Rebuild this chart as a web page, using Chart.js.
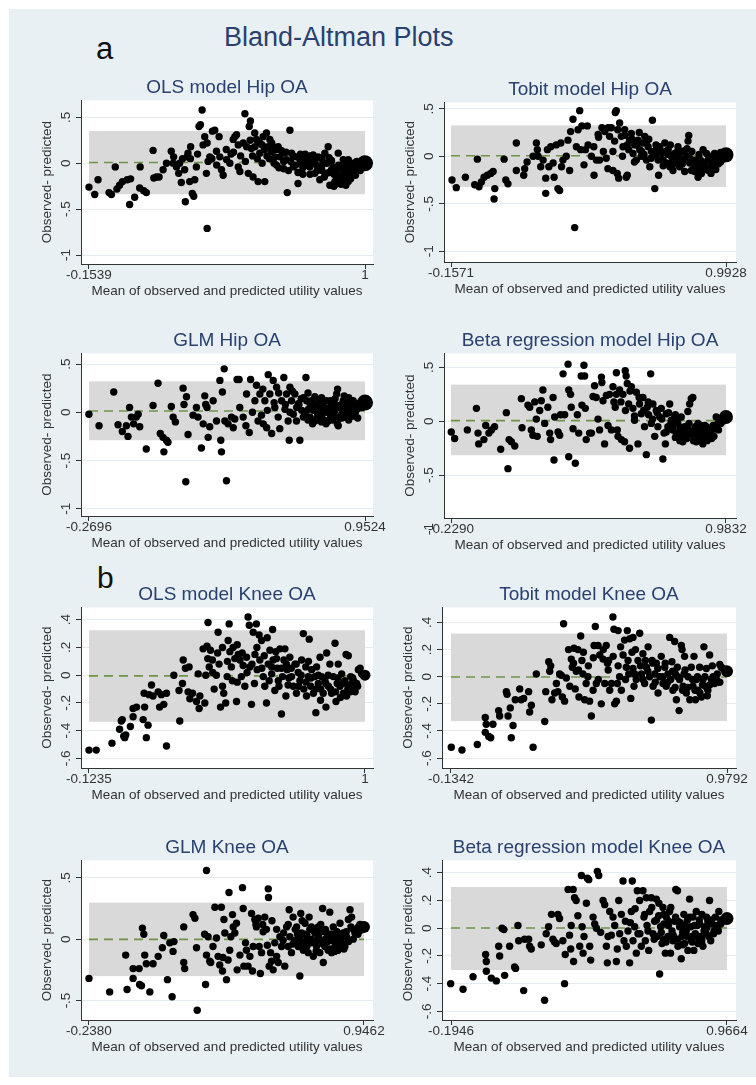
<!DOCTYPE html>
<html>
<head>
<meta charset="utf-8">
<title>Bland-Altman Plots</title>
<script src="https://cdn.jsdelivr.net/npm/chart.js@4.4.0/dist/chart.umd.min.js"></script>
<style>
  html, body { margin: 0; padding: 0; background: #fff; overflow: hidden; }
  #page { position: relative; width: 756px; height: 1085px; }
  #bg { position: absolute; left: 9px; top: 9px; width: 747px; height: 1068px; background: #e8f0f3; }
  canvas { position: absolute; }
  .lbl { position: absolute; font-family: "Liberation Sans", Arial, sans-serif; line-height: 1; white-space: nowrap; }
</style>
</head>
<body>
<div id="page">
  <div id="bg"></div>
  <div class="lbl" style="left:224px;top:24px;font-size:27px;color:#2a4170">Bland-Altman Plots</div>
  <div class="lbl" style="left:96px;top:33px;font-size:31px;color:#111">a</div>
  <div class="lbl" style="left:97px;top:563px;font-size:30px;color:#111">b</div>
</div>
<script>
// ---- data: [mean, difference] pairs ----
const olsHipPts = [
  [-0.154,-0.26],[-0.13,-0.34],[-0.116,-0.18],[-0.07,-0.32],[-0.06,-0.34],[-0.044,-0.04],[-0.037,-0.28],[-0.026,-0.24],
  [-0.014,-0.20],[0.006,-0.18],[0.016,-0.45],[0.02,-0.17],[0.037,-0.37],[0.06,-0.04],[0.058,-0.27],[0.075,-0.30],
  [0.086,-0.32],[0.114,0.14],[0.117,-0.16],[0.128,-0.15],[0.139,-0.15],[0.156,-0.07],[0.17,0.0],[0.19,0.13],
  [0.198,0.0],[0.2,0.07],[0.212,-0.04],[0.221,-0.11],[0.225,0.0],[0.232,-0.21],[0.237,0.05],[0.246,-0.07],
  [0.249,-0.42],[0.256,0.07],[0.26,0.11],[0.267,-0.20],[0.271,0.18],[0.278,-0.33],[0.284,-0.36],[0.288,-0.18],
  [0.295,-0.04],[0.306,0.40],[0.312,0.42],[0.319,0.58],[0.323,0.20],[0.33,0.29],[0.337,-0.11],[0.344,0.02],
  [0.34,-0.71],[0.351,0.07],[0.362,0.35],[0.372,0.36],[0.379,0.13],[0.39,0.29],[0.393,0.07],[0.40,-0.07],
  [0.407,-0.13],[0.421,0.04],[0.435,0.0],[0.449,0.26],[0.456,0.29],[0.463,0.31],[0.47,-0.04],[0.477,-0.09],
  [0.491,0.22],[0.498,0.54],[0.505,0.18],[0.512,-0.11],[0.516,0.40],[0.521,0.46],[0.525,0.16],[0.532,-0.15],
  [0.539,0.33],[0.546,0.26],[0.553,-0.20],[0.56,0.11],[0.574,0.29],[0.581,-0.20],[0.588,0.33],[0.595,0.18],
  [0.602,0.26],[0.609,0.13],[0.616,0.18],[0.623,0.07],[0.63,0.15],[0.637,0.18],[0.644,0.07],[0.658,0.11],
  [0.672,0.04],[0.675,-0.32],[0.686,0.36],[0.693,0.11],[0.70,-0.04],[0.714,0.07],[0.72,-0.22],[0.728,0.04],
  [0.735,0.0],[0.742,0.07],[0.755,-0.02],[0.762,0.07],[0.769,-0.04],[0.776,0.04],[0.783,0.09],[0.79,-0.11],
  [0.797,-0.02],[0.804,0.07],[0.811,-0.18],[0.818,-0.04],[0.825,0.0],[0.832,0.11],[0.839,-0.11],[0.846,0.18],
  [0.853,-0.24],[0.86,-0.07],[0.867,-0.04],[0.874,-0.20],[0.881,-0.11],[0.888,0.11],[0.895,-0.15],[0.902,-0.04],
  [0.909,0.04],[0.916,-0.07],[0.923,-0.04],[0.93,0.04],[0.937,-0.02],[0.951,0.0],[0.965,0.02],[0.979,0.01],
  [0.993,-0.01],[0.62,0.0],[0.64,-0.05],[0.66,0.02],[0.68,-0.08],[0.70,0.08],[0.72,-0.10],[0.74,-0.05],
  [0.75,0.10],[0.77,-0.12],[0.78,0.0],[0.80,-0.08],[0.82,0.05],[0.83,-0.15],[0.85,-0.10],[0.86,0.03],
  [0.88,-0.18],[0.89,-0.06],[0.90,-0.20],[0.91,-0.12],[0.92,-0.16],[0.93,-0.08],[0.94,-0.12],[0.95,-0.05],
  [0.96,-0.08],[0.97,-0.03],[0.87,-0.25],[0.885,-0.22],[0.90,-0.23],[0.55,0.05],[0.57,0.20],[0.59,0.08],
  [0.45,0.12],[0.47,0.20],[0.48,0.08],[0.50,0.02],[0.52,0.25],[0.53,0.08],[0.54,0.18],[0.56,0.22],
  [0.57,0.0],[0.58,0.15],[0.60,0.05],[0.61,0.22],[0.63,-0.02],[0.65,0.14],[0.66,-0.06],[0.67,0.12],
  [0.69,0.02],[0.71,-0.02],[0.73,0.10],[0.74,-0.12],[0.76,0.03],[0.77,0.08],[0.79,0.02],[0.81,0.06],
  [0.82,-0.08],[0.84,0.0],[0.85,0.06],[0.87,-0.12],[0.89,-0.02],[0.91,-0.18],[0.92,-0.02],[0.94,-0.06],
  [0.95,-0.10],[0.96,-0.02],[0.97,-0.06],[0.98,-0.02],[0.99,0.02],[0.94,-0.17],[0.93,-0.20],[0.92,-0.24],
  [0.96,-0.13],[0.98,-0.08],[0.27,0.05],[0.30,0.10],[0.34,0.22],[0.36,0.05],[0.38,-0.02],[0.42,0.15],[0.44,0.10]
];
const olsHipEnd = [[1.0, 0.0]];

const tobitHipPts = [
  [-0.153,-0.25],[-0.135,-0.33],[-0.097,-0.22],[-0.058,-0.30],[-0.047,-0.03],[-0.04,-0.32],[-0.03,-0.27],[-0.019,-0.22],
  [-0.005,-0.20],[0.009,-0.18],[0.019,-0.16],[0.026,-0.34],[0.023,-0.45],[0.065,-0.03],[0.072,-0.25],[0.081,-0.29],
  [0.116,0.14],[0.116,-0.15],[0.147,-0.20],[0.151,-0.13],[0.161,-0.06],[0.186,0.0],[0.2,0.14],[0.204,0.07],
  [0.207,0.0],[0.218,-0.11],[0.228,-0.04],[0.239,-0.23],[0.239,-0.39],[0.246,0.07],[0.252,-0.11],[0.26,0.10],
  [0.27,-0.07],[0.274,-0.22],[0.283,0.12],[0.29,-0.34],[0.297,-0.36],[0.302,0.14],[0.305,-0.11],[0.311,-0.04],
  [0.325,0.0],[0.332,0.17],[0.339,-0.15],[0.343,0.26],[0.353,0.39],[0.36,-0.75],[0.367,0.10],[0.374,0.28],
  [0.381,0.48],[0.385,0.07],[0.39,0.32],[0.399,-0.09],[0.405,0.07],[0.413,0.32],[0.416,0.12],[0.43,0.0],
  [0.441,-0.20],[0.451,-0.04],[0.458,0.23],[0.464,-0.04],[0.474,0.30],[0.486,0.26],[0.492,-0.02],[0.499,-0.13],
  [0.506,0.21],[0.513,0.30],[0.52,-0.15],[0.527,0.16],[0.53,0.46],[0.534,0.48],[0.538,-0.18],[0.544,-0.23],
  [0.548,0.35],[0.555,0.21],[0.562,0.10],[0.569,0.28],[0.576,-0.22],[0.58,-0.20],[0.586,0.07],[0.59,0.17],
  [0.597,0.24],[0.604,0.03],[0.611,0.12],[0.618,-0.04],[0.625,0.17],[0.632,0.07],[0.639,0.0],[0.646,0.14],
  [0.653,0.21],[0.66,-0.04],[0.667,0.10],[0.674,-0.11],[0.681,0.05],[0.685,0.38],[0.695,-0.34],[0.702,0.07],
  [0.709,-0.04],[0.711,-0.20],[0.716,0.10],[0.723,0.03],[0.73,-0.04],[0.737,0.14],[0.744,-0.07],[0.751,0.07],
  [0.758,-0.11],[0.764,0.0],[0.771,-0.15],[0.778,0.03],[0.785,-0.04],[0.792,0.10],[0.799,-0.11],[0.806,0.05],
  [0.813,-0.04],[0.82,-0.16],[0.827,0.0],[0.834,0.16],[0.837,0.22],[0.841,-0.07],[0.848,-0.15],[0.855,-0.04],
  [0.862,-0.16],[0.869,-0.04],[0.876,-0.22],[0.883,-0.13],[0.89,-0.18],[0.897,0.07],[0.904,-0.11],[0.911,0.03],
  [0.918,-0.04],[0.925,-0.11],[0.932,0.0],[0.938,-0.06],[0.945,0.03],[0.952,-0.04],[0.959,-0.02],[0.966,0.01],
  [0.973,0.0],[0.98,0.01],[0.987,0.01],[0.62,0.12],[0.64,0.05],[0.66,0.15],[0.70,0.02],[0.74,0.05],
  [0.78,-0.08],[0.82,0.06],[0.86,-0.10],[0.88,-0.02],[0.90,-0.08],[0.92,-0.15],[0.94,-0.09],[0.57,0.22],
  [0.52,0.05],[0.54,0.28],[0.56,0.0],[0.58,0.12],[0.60,0.18],[0.61,-0.06],[0.63,0.25],[0.65,0.02],
  [0.67,0.18],[0.68,-0.02],[0.70,0.12],[0.72,0.05],[0.73,-0.10],[0.75,0.02],[0.76,0.12],[0.77,-0.05],
  [0.79,0.05],[0.80,-0.02],[0.81,-0.08],[0.83,0.08],[0.84,-0.02],[0.85,0.05],[0.87,-0.10],[0.88,0.02],
  [0.89,-0.05],[0.91,-0.14],[0.92,-0.03],[0.93,-0.18],[0.94,-0.12],[0.95,0.02],[0.96,-0.08],[0.97,0.04],
  [0.98,-0.03],[0.95,-0.14],[0.97,-0.06],[0.99,0.03],[0.44,0.10],[0.46,0.20],[0.48,0.05],[0.50,0.30]
];
const tobitHipEnd = [[0.9928, 0.015]];

const glmHipPts = [
  [-0.27,-0.02],[-0.225,-0.14],[-0.16,0.21],[-0.141,-0.13],[-0.122,-0.20],[-0.104,-0.14],[-0.097,-0.25],[-0.09,0.05],
  [-0.082,-0.05],[-0.072,-0.12],[-0.06,-0.05],[-0.045,-0.15],[-0.052,-0.02],[-0.016,-0.38],[0.014,0.07],[0.036,0.30],
  [0.046,-0.22],[0.058,-0.26],[0.062,-0.41],[0.073,-0.29],[0.08,-0.31],[0.095,0.06],[0.103,-0.05],[0.113,-0.10],
  [0.147,0.25],[0.151,0.08],[0.159,-0.72],[0.162,0.16],[0.169,-0.23],[0.191,-0.03],[0.206,0.05],[0.213,-0.05],
  [0.228,-0.37],[0.236,-0.12],[0.243,0.17],[0.247,0.08],[0.253,0.05],[0.258,-0.26],[0.265,-0.15],[0.28,0.12],
  [0.295,-0.09],[0.31,0.33],[0.314,-0.29],[0.317,-0.41],[0.321,0.21],[0.329,0.45],[0.339,-0.71],[0.332,-0.09],
  [0.346,-0.12],[0.361,-0.05],[0.369,-0.16],[0.376,-0.07],[0.386,0.34],[0.395,0.34],[0.398,0.05],[0.413,-0.05],
  [0.425,-0.14],[0.428,0.19],[0.44,-0.21],[0.446,0.34],[0.454,0.0],[0.465,0.12],[0.472,0.28],[0.479,-0.09],
  [0.487,0.19],[0.494,-0.03],[0.502,-0.12],[0.509,0.12],[0.517,-0.16],[0.524,0.39],[0.531,0.19],[0.539,-0.22],
  [0.546,0.33],[0.553,0.05],[0.561,0.26],[0.568,-0.05],[0.575,-0.17],[0.583,0.12],[0.593,0.36],[0.598,0.03],
  [0.605,0.19],[0.612,-0.09],[0.617,-0.29],[0.62,0.26],[0.627,0.12],[0.635,-0.02],[0.642,0.19],[0.649,-0.09],
  [0.657,0.09],[0.664,-0.29],[0.672,0.02],[0.679,-0.05],[0.691,0.36],[0.694,0.12],[0.701,0.03],[0.709,-0.05],
  [0.716,0.12],[0.723,0.02],[0.731,-0.09],[0.738,0.09],[0.746,-0.02],[0.753,0.12],[0.76,-0.05],[0.768,0.05],
  [0.775,0.0],[0.782,0.12],[0.79,-0.09],[0.797,0.05],[0.804,-0.02],[0.812,0.09],[0.819,0.02],[0.827,0.19],
  [0.831,0.24],[0.834,-0.14],[0.841,0.05],[0.849,-0.02],[0.856,0.12],[0.863,0.03],[0.871,-0.02],[0.878,0.09],
  [0.886,0.05],[0.893,0.02],[0.9,0.09],[0.908,0.05],[0.915,0.07],[0.923,0.09],[0.93,0.09],[0.937,0.10],
  [0.945,0.10],[0.70,-0.08],[0.72,0.06],[0.74,-0.06],[0.76,0.02],[0.77,-0.08],[0.78,0.04],[0.80,-0.05],
  [0.81,0.0],[0.82,-0.04],[0.83,0.07],[0.85,-0.06],[0.87,0.0],[0.89,-0.04],[0.66,0.08],[0.68,0.15],
  [0.60,0.08],[0.62,0.0],[0.63,0.22],[0.65,0.05],[0.67,0.14],[0.69,0.0],[0.70,0.20],[0.71,0.08],
  [0.73,0.16],[0.74,0.0],[0.75,0.06],[0.76,0.15],[0.77,0.10],[0.79,0.0],[0.80,0.12],[0.81,-0.08],
  [0.82,0.14],[0.84,-0.06],[0.85,0.08],[0.86,-0.05],[0.87,0.12],[0.88,-0.08],[0.89,0.02],[0.90,-0.04],
  [0.91,0.0],[0.92,0.04],[0.93,0.06],[0.94,0.05],[0.92,-0.06],[0.90,0.12],[0.88,0.15],[0.86,0.17],
  [0.78,-0.12],[0.83,-0.12],[0.76,-0.10],[0.72,-0.12],[0.55,0.10],[0.57,0.20],[0.52,0.02],[0.50,0.24]
];
const glmHipEnd = [[0.9524, 0.10]];

const betaHipPts = [
  [-0.228,-0.10],[-0.213,-0.16],[-0.157,-0.08],[-0.117,0.12],[-0.11,-0.11],[-0.107,-0.21],[-0.084,-0.17],[-0.076,-0.04],
  [-0.062,-0.11],[-0.051,-0.08],[-0.037,-0.05],[-0.01,-0.26],[0.015,0.08],[0.022,-0.44],[0.027,-0.17],[0.037,-0.19],
  [0.052,-0.23],[0.081,0.21],[0.084,-0.06],[0.11,0.15],[0.118,0.13],[0.125,-0.08],[0.132,-0.13],[0.14,0.18],
  [0.147,0.02],[0.151,-0.14],[0.162,0.10],[0.169,0.19],[0.176,0.29],[0.184,-0.02],[0.198,0.13],[0.206,-0.11],
  [0.21,-0.17],[0.221,0.22],[0.225,-0.36],[0.228,0.04],[0.243,-0.10],[0.25,-0.13],[0.254,0.06],[0.265,0.44],
  [0.272,0.06],[0.287,0.53],[0.29,0.29],[0.29,-0.33],[0.298,0.25],[0.301,0.13],[0.309,-0.07],[0.319,-0.39],
  [0.328,0.06],[0.334,-0.11],[0.345,0.42],[0.348,0.15],[0.357,0.52],[0.36,0.42],[0.363,0.12],[0.367,-0.17],
  [0.382,-0.11],[0.39,-0.11],[0.397,0.23],[0.404,0.33],[0.411,0.22],[0.419,0.02],[0.426,-0.08],[0.434,0.41],
  [0.436,0.36],[0.441,0.19],[0.448,-0.21],[0.456,0.24],[0.463,-0.04],[0.47,0.25],[0.478,-0.08],[0.485,0.32],
  [0.489,0.18],[0.495,0.13],[0.5,0.45],[0.504,-0.08],[0.507,-0.14],[0.514,0.29],[0.522,-0.17],[0.529,0.25],
  [0.536,-0.19],[0.539,0.47],[0.543,0.42],[0.548,0.35],[0.554,0.16],[0.558,-0.25],[0.566,0.32],[0.573,0.12],
  [0.58,0.01],[0.588,0.27],[0.595,-0.21],[0.602,0.16],[0.61,0.07],[0.617,0.22],[0.624,-0.05],[0.632,-0.31],
  [0.636,0.13],[0.642,0.06],[0.651,0.44],[0.654,-0.02],[0.661,0.16],[0.669,-0.14],[0.676,0.10],[0.683,-0.05],
  [0.691,0.04],[0.698,0.12],[0.705,-0.35],[0.71,-0.11],[0.716,-0.21],[0.72,0.07],[0.727,-0.05],[0.735,0.16],
  [0.742,0.01],[0.749,-0.08],[0.757,0.04],[0.764,-0.11],[0.771,-0.02],[0.779,-0.14],[0.786,0.04],[0.793,-0.19],
  [0.801,-0.05],[0.808,-0.11],[0.815,0.09],[0.823,0.16],[0.83,0.21],[0.837,0.22],[0.842,-0.14],[0.848,-0.05],
  [0.852,-0.19],[0.86,-0.08],[0.867,-0.14],[0.874,-0.04],[0.881,-0.21],[0.889,-0.11],[0.896,-0.05],[0.904,-0.14],
  [0.911,-0.07],[0.918,-0.11],[0.926,-0.04],[0.933,-0.07],[0.94,0.04],[0.948,-0.02],[0.955,0.01],[0.962,0.02],
  [0.97,0.04],[0.977,0.04],[0.78,-0.06],[0.80,-0.12],[0.82,-0.08],[0.84,-0.10],[0.86,-0.16],[0.88,-0.08],
  [0.90,-0.10],[0.92,-0.16],[0.76,0.06],[0.74,-0.02],
  [0.70,0.02],[0.72,-0.10],[0.73,0.08],[0.75,-0.04],[0.76,-0.15],[0.77,0.02],[0.78,-0.18],[0.79,-0.08],
  [0.81,-0.16],[0.82,-0.02],[0.83,-0.12],[0.84,-0.18],[0.85,-0.10],[0.86,-0.02],[0.87,-0.18],[0.88,-0.14],
  [0.89,-0.04],[0.90,-0.18],[0.91,-0.12],[0.92,-0.07],[0.93,-0.14],[0.94,-0.06],[0.95,-0.08],[0.96,-0.02],
  [0.97,0.0],[0.98,0.02],[0.68,0.08],[0.66,0.02],[0.64,0.18],[0.62,0.10],[0.60,0.22],[0.58,0.05],
  [0.56,0.28],[0.54,0.10],[0.52,0.18],[0.50,0.25]
];
const betaHipEnd = [[0.9832, 0.04]];

const olsKneePts = [
  [-0.1235,-0.54],[-0.094,-0.54],[-0.03,-0.49],[0.001,-0.39],[0.008,-0.33],[0.012,-0.32],[0.018,-0.44],[0.026,-0.43],
  [0.022,-0.45],[0.045,-0.37],[0.056,-0.30],[0.056,-0.24],[0.07,-0.23],[0.097,-0.32],[0.101,-0.13],[0.103,-0.23],
  [0.11,-0.45],[0.117,-0.36],[0.121,-0.14],[0.131,-0.07],[0.137,-0.15],[0.158,-0.12],[0.164,-0.23],[0.171,-0.14],
  [0.181,-0.21],[0.192,-0.51],[0.192,-0.13],[0.222,0.0],[0.243,-0.11],[0.246,-0.33],[0.257,-0.06],[0.26,0.11],
  [0.269,0.05],[0.28,-0.12],[0.284,0.06],[0.287,-0.17],[0.298,-0.13],[0.314,-0.19],[0.321,0.01],[0.325,-0.24],
  [0.328,-0.15],[0.341,0.19],[0.348,-0.20],[0.352,0.0],[0.357,0.21],[0.361,0.38],[0.366,0.06],[0.371,0.18],
  [0.379,0.11],[0.386,-0.10],[0.395,0.0],[0.402,0.31],[0.406,0.08],[0.412,-0.23],[0.42,-0.08],[0.425,-0.13],
  [0.433,-0.20],[0.439,-0.01],[0.443,0.25],[0.447,0.37],[0.45,0.17],[0.456,0.06],[0.463,0.20],[0.47,0.12],
  [0.477,-0.19],[0.48,-0.05],[0.484,0.15],[0.491,0.11],[0.497,-0.01],[0.504,0.07],[0.511,-0.08],[0.518,0.13],
  [0.524,0.42],[0.529,0.36],[0.531,0.06],[0.538,-0.21],[0.545,0.31],[0.552,0.15],[0.558,0.37],[0.561,0.04],
  [0.569,0.29],[0.572,0.11],[0.579,0.25],[0.586,-0.01],[0.592,-0.08],[0.599,-0.20],[0.602,0.27],[0.606,0.08],
  [0.613,0.18],[0.62,0.01],[0.624,0.33],[0.626,0.11],[0.633,-0.11],[0.637,0.17],[0.643,0.05],[0.647,-0.04],
  [0.654,0.19],[0.66,-0.28],[0.664,-0.01],[0.67,0.11],[0.674,0.19],[0.678,-0.15],[0.683,0.04],[0.687,-0.07],
  [0.694,0.13],[0.701,-0.01],[0.708,-0.08],[0.715,0.08],[0.721,-0.13],[0.728,0.02],[0.735,-0.04],[0.742,0.11],
  [0.749,0.30],[0.751,-0.10],[0.759,0.06],[0.762,-0.15],[0.769,-0.01],[0.773,0.26],[0.779,-0.08],[0.783,0.04],
  [0.79,-0.13],[0.796,-0.01],[0.8,-0.27],[0.803,0.06],[0.81,-0.06],[0.817,0.13],[0.819,-0.18],[0.823,-0.01],
  [0.83,-0.13],[0.837,-0.04],[0.841,-0.23],[0.844,0.16],[0.851,-0.08],[0.857,0.08],[0.864,-0.13],[0.871,-0.01],
  [0.878,0.23],[0.882,-0.19],[0.887,-0.06],[0.891,0.08],[0.898,-0.08],[0.905,0.01],[0.912,-0.13],[0.918,-0.04],
  [0.923,0.15],[0.925,-0.15],[0.932,0.14],[0.936,-0.08],[0.942,-0.01],[0.946,-0.06],[0.953,-0.04],[0.959,-0.08],
  [0.966,-0.06],[0.973,0.04],[0.98,0.05],[0.986,0.01],
  [0.36,0.12],[0.38,0.02],[0.40,0.16],[0.42,0.20],[0.44,0.10],[0.46,-0.04],[0.48,0.22],[0.50,0.16],
  [0.52,0.02],[0.54,0.08],[0.55,-0.06],[0.56,0.20],[0.58,0.05],[0.59,0.14],[0.61,-0.04],[0.62,0.06],
  [0.64,0.12],[0.65,-0.08],[0.66,0.05],[0.68,0.08],[0.69,-0.02],[0.70,0.05],[0.72,0.08],[0.73,-0.08],
  [0.74,0.0],[0.76,-0.05],[0.77,0.10],[0.78,-0.02],[0.80,-0.10],[0.81,0.0],[0.82,-0.10],[0.84,-0.06],
  [0.85,0.0],[0.86,-0.10],[0.88,-0.12],[0.89,-0.02],[0.90,-0.16],[0.91,-0.06],[0.93,-0.10],[0.94,-0.12],
  [0.95,-0.02],[0.96,-0.12],[0.97,-0.08]
];
const olsKneeEnd = [[1.0, 0.0]];

const tobitKneePts = [
  [-0.133,-0.52],[-0.09,-0.54],[-0.028,-0.50],[0.004,-0.30],[0.008,-0.35],[0.004,-0.41],[0.018,-0.44],[0.026,-0.45],
  [0.035,-0.35],[0.058,-0.25],[0.062,-0.29],[0.089,-0.11],[0.092,-0.13],[0.096,-0.29],[0.105,-0.23],[0.109,-0.45],
  [0.116,-0.36],[0.125,-0.17],[0.143,-0.09],[0.149,-0.17],[0.159,-0.16],[0.179,-0.11],[0.183,-0.26],[0.19,-0.21],
  [0.197,-0.52],[0.21,0.02],[0.244,-0.33],[0.248,-0.11],[0.26,0.11],[0.264,0.04],[0.268,0.08],[0.273,-0.17],
  [0.284,-0.12],[0.291,-0.05],[0.297,-0.11],[0.304,0.02],[0.311,0.01],[0.315,-0.15],[0.32,0.39],[0.324,-0.18],
  [0.331,-0.01],[0.34,0.20],[0.345,-0.07],[0.351,0.13],[0.355,0.07],[0.362,0.21],[0.367,-0.09],[0.371,0.04],
  [0.378,0.20],[0.382,-0.15],[0.389,0.30],[0.394,0.12],[0.398,0.02],[0.405,-0.17],[0.411,-0.05],[0.418,0.0],
  [0.425,-0.18],[0.432,-0.29],[0.439,-0.10],[0.443,0.23],[0.448,0.37],[0.452,-0.05],[0.459,0.23],[0.466,0.16],
  [0.472,-0.20],[0.479,0.13],[0.486,-0.05],[0.492,0.23],[0.497,0.10],[0.502,0.12],[0.506,-0.10],[0.513,-0.05],
  [0.519,0.44],[0.523,0.35],[0.526,-0.20],[0.533,-0.18],[0.537,-0.05],[0.54,0.34],[0.546,0.0],[0.553,-0.10],
  [0.56,0.16],[0.566,0.27],[0.573,0.07],[0.577,0.34],[0.583,0.02],[0.587,0.28],[0.591,-0.16],[0.596,0.18],
  [0.6,0.29],[0.604,-0.07],[0.607,0.02],[0.613,-0.02],[0.62,0.12],[0.627,0.32],[0.634,0.02],[0.64,0.17],
  [0.647,-0.05],[0.654,0.07],[0.661,0.22],[0.667,0.0],[0.674,-0.32],[0.677,0.12],[0.681,-0.07],[0.688,0.02],
  [0.694,0.10],[0.701,-0.12],[0.708,0.0],[0.714,0.15],[0.721,-0.05],[0.728,0.07],[0.734,-0.07],[0.741,0.02],
  [0.748,0.29],[0.752,-0.02],[0.757,0.11],[0.761,-0.10],[0.768,0.26],[0.771,0.02],[0.775,-0.17],[0.779,0.07],
  [0.786,-0.25],[0.788,-0.02],[0.795,0.23],[0.798,0.20],[0.802,-0.07],[0.806,0.02],[0.808,0.15],[0.815,-0.12],
  [0.822,0.0],[0.829,-0.17],[0.835,0.07],[0.842,-0.07],[0.846,0.15],[0.852,-0.17],[0.856,-0.02],[0.862,-0.10],
  [0.869,0.07],[0.876,-0.15],[0.882,-0.02],[0.886,0.22],[0.892,-0.07],[0.896,0.06],[0.902,-0.10],[0.909,0.16],
  [0.916,-0.02],[0.923,0.0],[0.929,-0.05],[0.936,-0.02],[0.943,-0.04],[0.95,0.09],[0.956,0.07],[0.963,0.06],
  [0.97,0.05],
  [0.36,0.10],[0.38,0.05],[0.40,0.18],[0.42,0.08],[0.44,0.14],[0.46,-0.02],[0.48,0.20],[0.50,0.05],
  [0.52,0.15],[0.54,0.08],[0.55,0.22],[0.57,-0.02],[0.58,0.12],[0.60,0.06],[0.61,0.20],[0.63,0.08],
  [0.64,-0.02],[0.65,0.12],[0.66,0.04],[0.68,0.10],[0.69,-0.04],[0.70,0.06],[0.72,0.0],[0.73,0.10],
  [0.74,-0.04],[0.76,0.04],[0.77,-0.08],[0.78,0.0],[0.80,-0.10],[0.81,0.05],[0.82,-0.08],[0.84,-0.02],
  [0.85,-0.10],[0.86,0.0],[0.87,-0.12],[0.88,-0.06],[0.89,0.0],[0.90,-0.14],[0.91,-0.06],[0.92,0.08],
  [0.94,0.02],[0.95,-0.04]
];
const tobitKneeEnd = [[0.9792, 0.04]];

const glmKneePts = [
  [-0.238,-0.32],[-0.149,-0.43],[-0.08,-0.13],[-0.074,-0.41],[-0.048,-0.32],[-0.048,-0.24],[-0.022,-0.24],[-0.02,-0.37],
  [-0.012,-0.38],[-0.008,0.09],[-0.002,0.04],[0.002,-0.13],[0.009,-0.20],[0.024,-0.43],[0.038,-0.20],[0.06,-0.14],
  [0.078,-0.07],[0.084,0.03],[0.1,-0.33],[0.11,-0.03],[0.12,-0.47],[0.124,-0.10],[0.128,-0.02],[0.17,0.10],
  [0.17,-0.19],[0.174,-0.24],[0.21,0.20],[0.218,0.17],[0.225,-0.07],[0.228,-0.58],[0.26,0.04],[0.264,-0.37],
  [0.268,0.56],[0.268,-0.13],[0.275,0.02],[0.282,-0.18],[0.286,-0.19],[0.296,-0.06],[0.304,0.26],[0.311,0.01],
  [0.318,-0.14],[0.325,-0.21],[0.332,0.26],[0.337,-0.26],[0.339,-0.15],[0.343,0.16],[0.347,0.05],[0.354,-0.33],
  [0.361,-0.17],[0.365,0.38],[0.368,-0.09],[0.373,0.02],[0.38,0.20],[0.383,0.10],[0.39,0.05],[0.397,0.13],
  [0.4,-0.25],[0.412,-0.13],[0.423,0.42],[0.426,0.25],[0.429,-0.22],[0.436,-0.03],[0.44,-0.09],[0.447,-0.22],
  [0.455,-0.14],[0.462,0.21],[0.466,-0.26],[0.469,-0.06],[0.476,0.16],[0.481,0.12],[0.483,0.10],[0.491,0.17],
  [0.495,-0.06],[0.5,-0.28],[0.505,-0.11],[0.512,0.06],[0.519,0.18],[0.526,0.08],[0.534,0.41],[0.535,0.34],
  [0.538,-0.22],[0.544,-0.11],[0.548,-0.18],[0.555,-0.25],[0.562,-0.03],[0.57,-0.14],[0.577,-0.19],[0.584,0.02],
  [0.591,-0.06],[0.598,-0.01],[0.605,-0.22],[0.613,0.10],[0.62,-0.06],[0.624,0.24],[0.627,0.02],[0.634,-0.11],
  [0.641,0.18],[0.649,-0.01],[0.656,0.10],[0.663,-0.06],[0.67,-0.30],[0.674,0.21],[0.677,0.05],[0.685,-0.09],
  [0.692,0.13],[0.699,-0.01],[0.706,-0.11],[0.713,0.08],[0.72,-0.03],[0.728,-0.14],[0.735,0.05],[0.742,-0.06],
  [0.749,0.10],[0.756,-0.11],[0.764,-0.01],[0.768,0.25],[0.771,-0.19],[0.778,-0.06],[0.785,0.05],[0.792,-0.09],
  [0.799,0.22],[0.802,-0.01],[0.807,-0.11],[0.814,0.10],[0.821,-0.06],[0.828,0.02],[0.835,-0.09],[0.843,0.13],
  [0.85,-0.03],[0.857,0.05],[0.864,-0.06],[0.871,0.02],[0.879,0.16],[0.886,0.24],[0.893,0.18],[0.9,0.08],
  [0.907,0.05],[0.915,0.06],[0.922,0.10],[0.929,0.12],[0.936,0.10],[0.70,0.04],[0.72,0.10],[0.74,-0.02],
  [0.76,0.06],[0.78,0.0],[0.80,0.04],[0.82,-0.02],[0.84,0.0],[0.86,0.02],[0.66,0.04],[0.68,-0.04],
  [0.60,0.05],[0.62,0.12],[0.64,-0.04],[0.65,0.08],[0.67,0.0],[0.68,0.15],[0.69,0.04],[0.70,-0.06],
  [0.71,0.18],[0.72,0.0],[0.73,0.07],[0.74,-0.10],[0.75,0.02],[0.76,0.12],[0.77,-0.04],[0.78,0.08],
  [0.79,-0.02],[0.80,-0.08],[0.81,0.04],[0.82,-0.10],[0.83,0.06],[0.84,-0.04],[0.85,0.04],[0.86,-0.08],
  [0.87,0.06],[0.88,-0.02],[0.89,0.10],[0.90,0.0],[0.91,0.08],[0.92,0.04],[0.93,0.07],[0.57,0.08],
  [0.55,0.15],[0.53,-0.05],[0.51,0.12]
];
const glmKneeEnd = [[0.9462, 0.10]];

const betaKneePts = [
  [-0.196,-0.40],[-0.144,-0.44],[-0.102,-0.35],[-0.049,-0.19],[-0.046,-0.24],[-0.046,-0.31],[-0.025,-0.36],[-0.004,-0.38],
  [0.006,-0.13],[0.01,-0.20],[0.02,0.0],[0.028,-0.01],[0.031,-0.34],[0.052,-0.13],[0.073,-0.28],[0.077,-0.29],
  [0.087,0.02],[0.09,-0.09],[0.111,-0.45],[0.115,-0.08],[0.132,-0.08],[0.136,-0.13],[0.143,-0.15],[0.185,-0.12],
  [0.199,-0.52],[0.206,-0.04],[0.216,0.01],[0.228,0.10],[0.234,-0.08],[0.241,-0.10],[0.248,-0.11],[0.255,0.10],
  [0.262,0.07],[0.276,-0.09],[0.283,-0.40],[0.286,-0.19],[0.298,0.28],[0.304,-0.05],[0.309,-0.15],[0.311,0.02],
  [0.319,0.28],[0.321,-0.24],[0.325,0.22],[0.332,0.20],[0.339,0.09],[0.347,-0.13],[0.354,0.38],[0.357,0.01],
  [0.361,-0.18],[0.365,-0.06],[0.375,0.18],[0.379,0.36],[0.385,0.35],[0.389,-0.13],[0.393,-0.23],[0.403,0.08],
  [0.41,0.03],[0.417,0.0],[0.421,0.41],[0.427,0.38],[0.435,-0.03],[0.445,0.20],[0.452,0.17],[0.459,-0.13],
  [0.463,-0.25],[0.466,-0.06],[0.473,0.12],[0.48,-0.05],[0.487,0.08],[0.494,0.02],[0.501,-0.24],[0.505,-0.15],
  [0.511,0.20],[0.515,-0.04],[0.522,0.10],[0.529,0.34],[0.533,-0.09],[0.539,0.05],[0.543,-0.13],[0.55,-0.02],
  [0.557,-0.25],[0.564,0.12],[0.568,0.34],[0.571,-0.09],[0.578,0.01],[0.585,-0.18],[0.589,0.27],[0.592,-0.04],
  [0.599,0.20],[0.606,-0.13],[0.613,0.27],[0.617,0.08],[0.623,-0.09],[0.627,0.22],[0.634,-0.02],[0.637,-0.16],
  [0.641,0.12],[0.648,0.22],[0.655,-0.04],[0.662,0.05],[0.669,0.21],[0.673,-0.06],[0.679,0.09],[0.683,-0.33],
  [0.687,0.01],[0.693,-0.11],[0.697,0.15],[0.701,0.03],[0.707,-0.18],[0.711,0.08],[0.718,-0.06],[0.725,0.12],
  [0.729,-0.18],[0.735,-0.02],[0.739,-0.09],[0.746,0.05],[0.751,0.28],[0.758,0.27],[0.76,-0.13],[0.767,0.01],
  [0.774,-0.22],[0.777,-0.06],[0.785,0.10],[0.788,-0.11],[0.795,-0.02],[0.802,-0.16],[0.809,0.21],[0.814,0.01],
  [0.816,-0.09],[0.823,0.08],[0.827,-0.16],[0.833,-0.04],[0.837,0.12],[0.844,-0.11],[0.851,0.03],[0.855,-0.06],
  [0.861,0.10],[0.865,-0.13],[0.872,0.01],[0.879,-0.04],[0.886,0.05],[0.893,0.20],[0.898,-0.09],[0.903,0.03],
  [0.912,-0.02],[0.917,0.08],[0.926,0.0],[0.932,0.12],[0.94,0.03],[0.95,0.05],[0.70,-0.08],[0.72,0.02],
  [0.74,-0.05],[0.76,0.05],[0.78,-0.03],[0.80,0.06],[0.82,-0.06],[0.84,0.02],[0.86,-0.08],[0.88,0.0],
  [0.56,0.04],[0.58,0.14],[0.60,-0.04],[0.62,0.10],[0.63,0.02],[0.65,0.15],[0.66,-0.08],[0.67,0.06],
  [0.68,0.18],[0.69,-0.03],[0.70,0.10],[0.71,-0.10],[0.72,0.05],[0.73,0.15],[0.74,-0.06],[0.75,0.08],
  [0.76,-0.08],[0.77,0.04],[0.78,-0.12],[0.79,0.02],[0.80,-0.06],[0.81,0.08],[0.82,-0.10],[0.83,0.02],
  [0.84,-0.06],[0.85,0.06],[0.86,-0.10],[0.87,-0.02],[0.88,0.08],[0.89,-0.06],[0.90,0.06],[0.91,-0.04],
  [0.92,0.02],[0.93,-0.02],[0.94,0.06]
];
const betaKneeEnd = [[0.9664, 0.07]];

// limits of agreement: [lower, mean, upper]
const olsHipLoA = [-0.337, 0.008, 0.351];
const tobitHipLoA = [-0.322, 0.006, 0.325];
const glmHipLoA = [-0.29, 0.013, 0.32];
const betaHipLoA = [-0.315, 0.006, 0.34];
const olsKneeLoA = [-0.336, -0.005, 0.324];
const tobitKneeLoA = [-0.327, -0.002, 0.318];
const glmKneeLoA = [-0.301, -0.002, 0.298];
const betaKneeLoA = [-0.302, 0.002, 0.297];

// x tick values and labels (min and max of the means)
const olsHipXTicks = [-0.1539, 1], olsHipXLabels = ['-0.1539', '1'];
const tobitHipXTicks = [-0.1571, 0.9928], tobitHipXLabels = ['-0.1571', '0.9928'];
const glmHipXTicks = [-0.2696, 0.9524], glmHipXLabels = ['-0.2696', '0.9524'];
const betaHipXTicks = [-0.2290, 0.9832], betaHipXLabels = ['-0.2290', '0.9832'];
const olsKneeXTicks = [-0.1235, 1], olsKneeXLabels = ['-0.1235', '1'];
const tobitKneeXTicks = [-0.1342, 0.9792], tobitKneeXLabels = ['-0.1342', '0.9792'];
const glmKneeXTicks = [-0.2380, 0.9462], glmKneeXLabels = ['-0.2380', '0.9462'];
const betaKneeXTicks = [-0.1946, 0.9664], betaKneeXLabels = ['-0.1946', '0.9664'];

// y ticks
const hipYTicks = [0.5, 0, -0.5, -1], hipYLabels = ['.5', '0', '-.5', '-1'];
const kneeYTicks = [0.4, 0.2, 0, -0.2, -0.4, -0.6], kneeYLabels = ['.4', '.2', '0', '-.2', '-.4', '-.6'];
const glmKneeYTicks = [0.5, 0, -0.5], glmKneeYLabels = ['.5', '0', '-.5'];

const titles = ['OLS model Hip OA', 'Tobit model Hip OA', 'GLM Hip OA', 'Beta regression model Hip OA',
  'OLS model Knee OA', 'Tobit model Knee OA', 'GLM Knee OA', 'Beta regression model Knee OA'];

// ---- layout: plot area box in page pixels, plus axis ranges ----
const panels = [
  { pts: olsHipPts, end: olsHipEnd, endR: 8, loa: olsHipLoA, xt: olsHipXTicks, xl: olsHipXLabels, yt: hipYTicks, yl: hipYLabels,
    box: [81, 373, 100, 264], xr: [-0.1873, 1.0334], yr: [-1.098, 0.685] },
  { pts: tobitHipPts, end: tobitHipEnd, endR: 7.5, loa: tobitHipLoA, xt: tobitHipXTicks, xl: tobitHipXLabels, yt: hipYTicks, yl: hipYLabels,
    box: [444, 736, 102, 262], xr: [-0.1864, 1.0346], yr: [-1.112, 0.567] },
  { pts: glmHipPts, end: glmHipEnd, endR: 8, loa: glmHipLoA, xt: glmHipXTicks, xl: glmHipXLabels, yt: hipYTicks, yl: hipYLabels,
    box: [81, 373, 353, 516], xr: [-0.305, 0.9878], yr: [-1.075, 0.61] },
  { pts: betaHipPts, end: betaHipEnd, endR: 7, loa: betaHipLoA, xt: betaHipXTicks, xl: betaHipXLabels, yt: hipYTicks, yl: hipYLabels,
    box: [444, 736, 353, 518], xr: [-0.2599, 1.0273], yr: [-0.898, 0.63] },
  { pts: olsKneePts, end: olsKneeEnd, endR: 5.5, loa: olsKneeLoA, xt: olsKneeXTicks, xl: olsKneeXLabels, yt: kneeYTicks, yl: kneeYLabels,
    box: [81, 373, 607, 768], xr: [-0.156, 1.0326], yr: [-0.669, 0.489] },
  { pts: tobitKneePts, end: tobitKneeEnd, endR: 6, loa: tobitKneeLoA, xt: tobitKneeXTicks, xl: tobitKneeXLabels, yt: kneeYTicks, yl: kneeYLabels,
    box: [442, 736, 607, 768], xr: [-0.1705, 1.0155], yr: [-0.673, 0.511] },
  { pts: glmKneePts, end: glmKneeEnd, endR: 6, loa: glmKneeLoA, xt: glmKneeXTicks, xl: glmKneeXLabels, yt: glmKneeYTicks, yl: glmKneeYLabels,
    box: [81, 373, 860, 1020], xr: [-0.2724, 0.985], yr: [-0.659, 0.642] },
  { pts: betaKneePts, end: betaKneeEnd, endR: 6.5, loa: betaKneeLoA, xt: betaKneeXTicks, xl: betaKneeXLabels, yt: kneeYTicks, yl: kneeYLabels,
    box: [442, 736, 860, 1020], xr: [-0.2325, 1.0043], yr: [-0.662, 0.489] }
];

const FONT = '"Liberation Sans", Arial, sans-serif';
const AXIS_W = 42, AXIS_H = 35, TITLE_H = 24.4, PAD_R = 20;

function makeDecor(p) {
  return {
    id: 'decor',
    beforeDraw(chart) {
      const { ctx, chartArea: a } = chart;
      ctx.save();
      ctx.fillStyle = '#ffffff';
      ctx.fillRect(a.left, a.top, a.right - a.left, a.bottom - a.top);
      ctx.restore();
    },
    beforeDatasetsDraw(chart) {
      // grey band between the limits of agreement
      const { ctx, scales: { x, y } } = chart;
      const x0 = x.getPixelForValue(p.xt[0]), x1 = x.getPixelForValue(p.xt[1]);
      const yTop = y.getPixelForValue(p.loa[2]), yBot = y.getPixelForValue(p.loa[0]);
      ctx.save();
      ctx.fillStyle = '#d9d9d9';
      ctx.fillRect(x0, yTop, x1 - x0, yBot - yTop);
      ctx.restore();
    },
    afterDraw(chart) {
      // Stata-style vertical y tick labels
      const { ctx, scales: { y } } = chart;
      ctx.save();
      ctx.font = '13.5px ' + FONT;
      ctx.fillStyle = '#333';
      ctx.textAlign = 'center';
      ctx.textBaseline = 'middle';
      p.yt.forEach((v, i) => {
        ctx.save();
        ctx.translate(y.right - 15, y.getPixelForValue(v));
        ctx.rotate(-Math.PI / 2);
        ctx.fillText(p.yl[i], 0, 0);
        ctx.restore();
      });
      ctx.restore();
    }
  };
}

const page = document.getElementById('page');
panels.forEach((p, idx) => {
  const [pl, pr, pt, pb] = p.box;
  const left = pl - AXIS_W, top = pt - TITLE_H;
  const w = pr - left + PAD_R, h = pb - top + AXIS_H;
  const cv = document.createElement('canvas');
  cv.width = w; cv.height = h;
  cv.style.left = left + 'px'; cv.style.top = top + 'px';
  cv.style.width = w + 'px'; cv.style.height = h + 'px';
  page.appendChild(cv);

  new Chart(cv.getContext('2d'), {
    type: 'scatter',
    data: {
      datasets: [
        { data: p.pts.map(d => ({ x: d[0], y: d[1] })), pointRadius: 3.7, pointBackgroundColor: '#000', pointBorderWidth: 0 },
        { data: p.end.map(d => ({ x: d[0], y: d[1] })), pointRadius: p.endR, pointBackgroundColor: '#000', pointBorderWidth: 0 },
        { data: p.xt.map(v => ({ x: v, y: p.loa[1] })), showLine: true, pointRadius: 0,
          borderColor: '#6e9448', borderWidth: 1.6, borderDash: [9, 6] }
      ]
    },
    options: {
      responsive: false,
      animation: false,
      events: [],
      layout: { padding: { left: 0, right: PAD_R, top: 0, bottom: 0 } },
      plugins: {
        legend: { display: false },
        tooltip: { enabled: false },
        title: {
          display: true, text: titles[idx], fullSize: false, color: '#2a4170',
          font: { family: FONT, size: 19, weight: 'normal', lineHeight: 1.2 },
          padding: { top: 0, bottom: 1.6 }
        }
      },
      scales: {
        x: {
          type: 'linear', position: 'bottom', min: p.xr[0], max: p.xr[1],
          afterBuildTicks: s => { s.ticks = p.xt.map(v => ({ value: v })); },
          afterFit: s => { s.height = AXIS_H; },
          ticks: { autoSkip: false, maxRotation: 0, minRotation: 0, padding: -2, color: '#333',
            font: { family: FONT, size: 13.5 }, callback: (v, i) => p.xl[i] },
          grid: { drawOnChartArea: false, drawTicks: true, tickLength: 5, tickColor: '#333' },
          border: { display: true, color: '#333', width: 1 },
          title: { display: true, text: 'Mean of observed and predicted utility values', color: '#333',
            font: { family: FONT, size: 13.5, lineHeight: 1.2 }, padding: 0 }
        },
        y: {
          type: 'linear', position: 'left', min: p.yr[0], max: p.yr[1],
          afterBuildTicks: s => { s.ticks = p.yt.filter(v => v >= p.yr[0] && v <= p.yr[1]).map(v => ({ value: v })); },
          afterFit: s => { s.width = AXIS_W; },
          ticks: { display: false },
          grid: { color: '#e3edf0', lineWidth: 1, drawTicks: true, tickLength: 5, tickColor: '#333' },
          border: { display: true, color: '#333', width: 1 },
          title: { display: true, text: 'Observed- predicted', color: '#333',
            font: { family: FONT, size: 13.5, lineHeight: 1.2 }, padding: 0 }
        }
      }
    },
    plugins: [makeDecor(p)]
  });
});
</script>
</body>
</html>
